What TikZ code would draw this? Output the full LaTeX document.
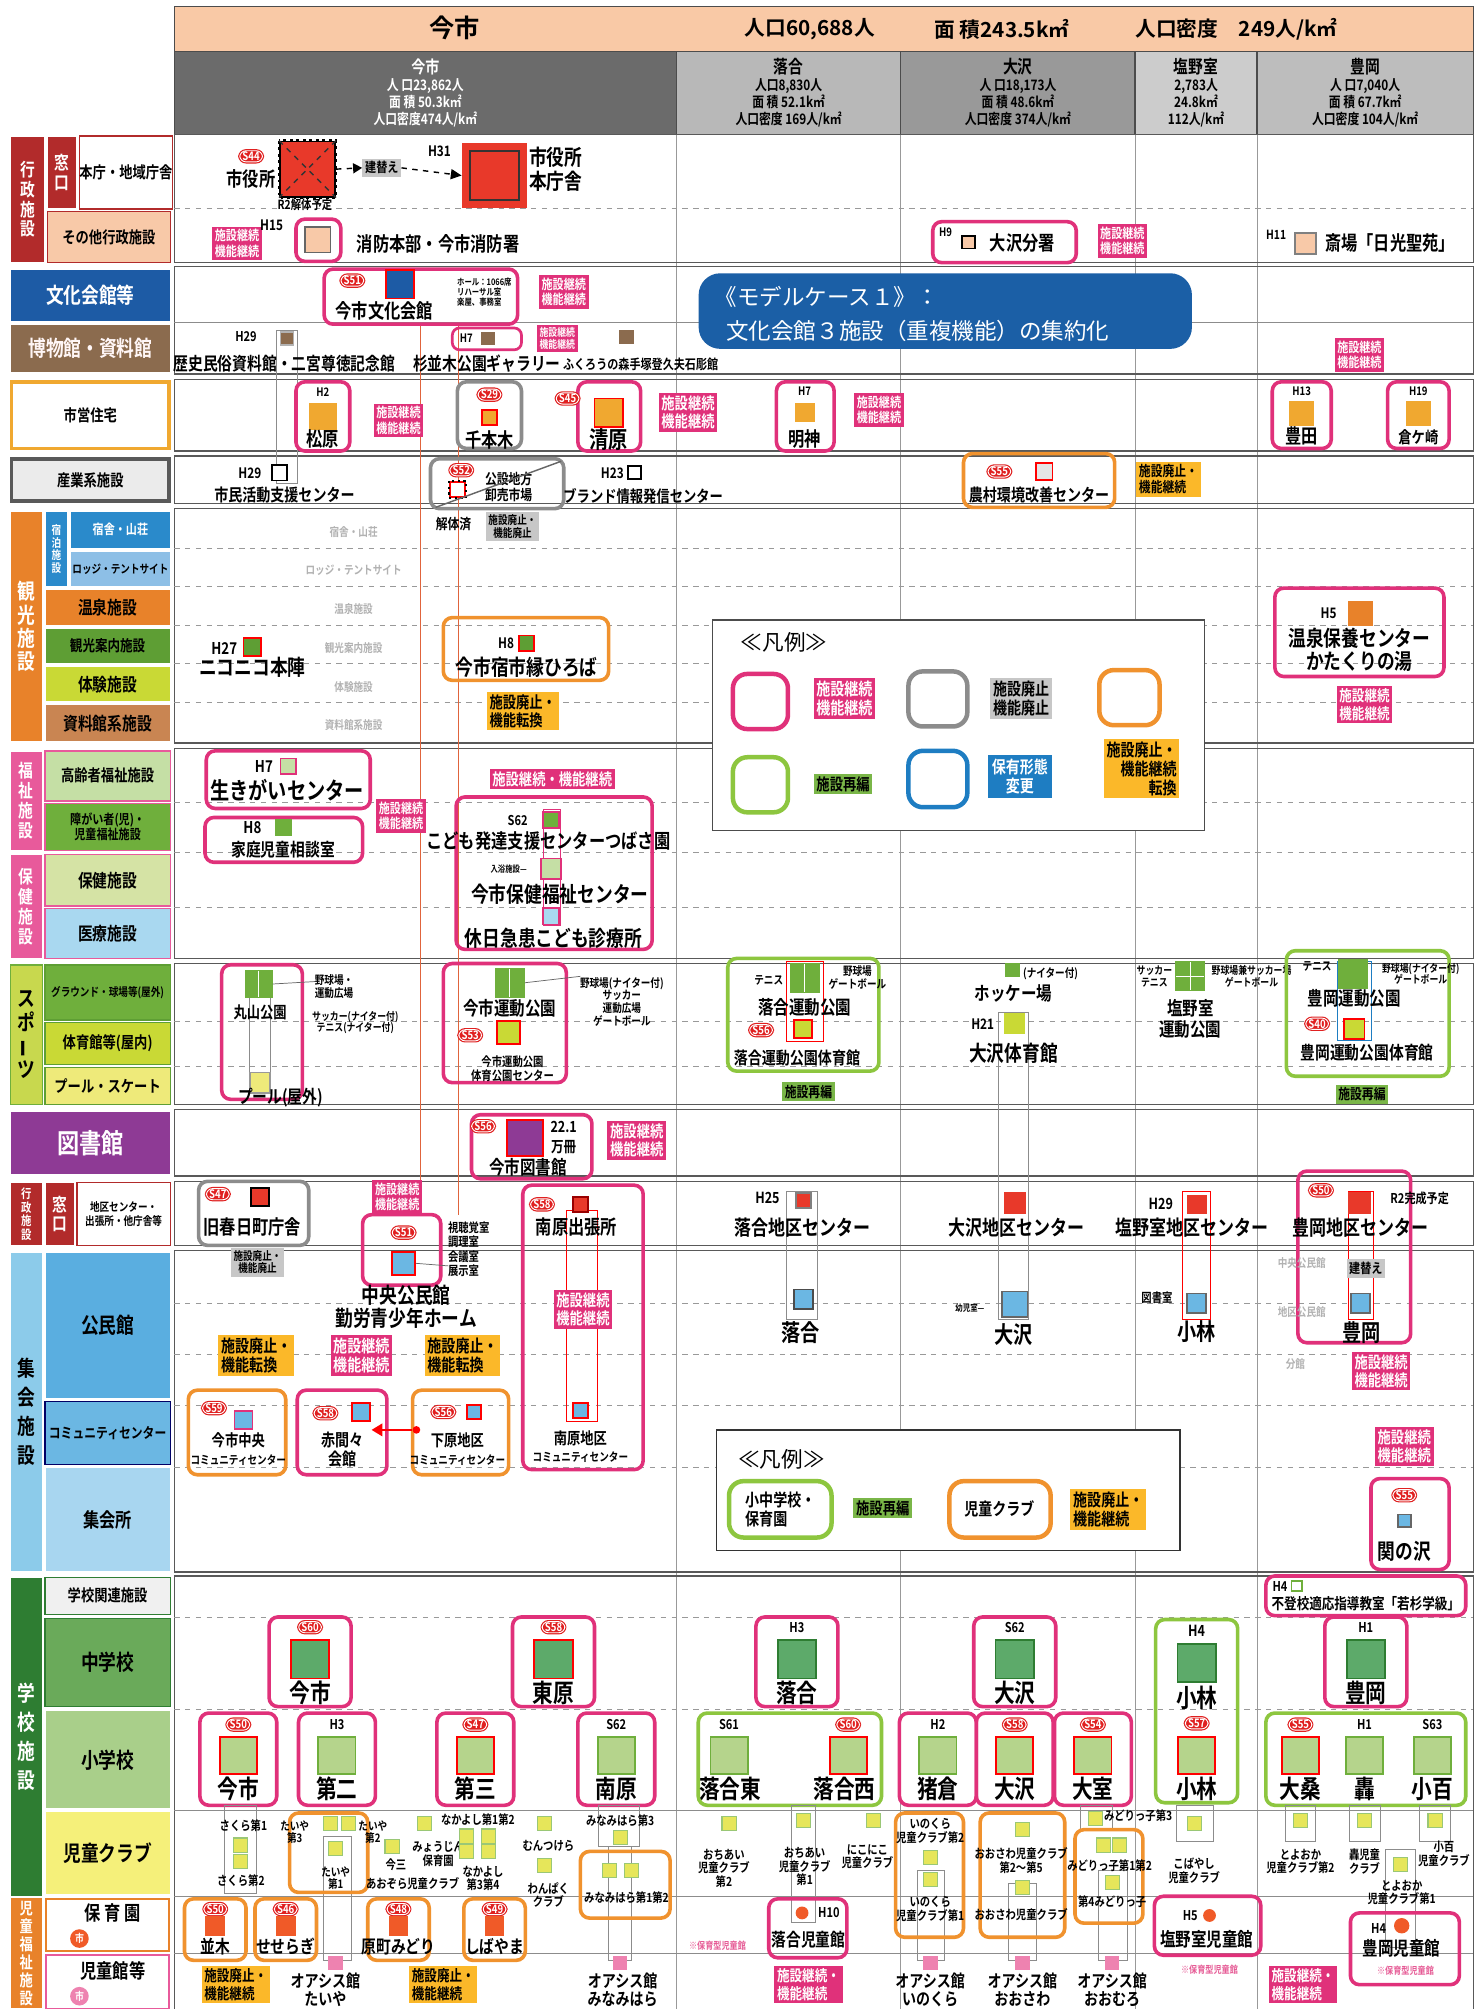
\documentclass[tikz,border=0pt]{standalone}
\usepackage{fontspec}
\setmainfont{Noto Sans CJK JP}[BoldFont=* Bold]
\newfontfamily\narrow{Noto Sans CJK JP}[UprightFont=* Bold, FakeStretch=0.82]
\usepackage{xcolor}
\usepackage{tikz}
\usetikzlibrary{arrows.meta}

\definecolor{keepc}{HTML}{E0317A}
\definecolor{stopc}{HTML}{8C8C8C}
\definecolor{convc}{HTML}{F0922E}
\definecolor{regc}{HTML}{8DC63F}
\definecolor{tagyel}{HTML}{FBB829}
\definecolor{tagreg}{HTML}{7AB648}
\definecolor{tagblue}{HTML}{1E7DC2}
\definecolor{calloutblue}{HTML}{1B5FA6}
\definecolor{hdrorange}{HTML}{F9C9A6}
\definecolor{admred}{HTML}{B22B2B}
\definecolor{facred}{HTML}{E8392A}
\definecolor{peach}{HTML}{F8C9A8}
\definecolor{culblue}{HTML}{1D5BA5}
\definecolor{musbrown}{HTML}{8B6B4E}
\definecolor{housec}{HTML}{F0A830}
\definecolor{tourorange}{HTML}{E8822A}
\definecolor{staysblue}{HTML}{2A8ACB}
\definecolor{lodgeblue}{HTML}{8DBFE6}
\definecolor{tourgreen}{HTML}{5E9E34}
\definecolor{yelgreen}{HTML}{C9D935}
\definecolor{docbrown}{HTML}{C98552}
\definecolor{welpink}{HTML}{E85A9B}
\definecolor{eldgreen}{HTML}{C5DFA5}
\definecolor{midgreen}{HTML}{6FAF3C}
\definecolor{palegreen}{HTML}{D5E3A5}
\definecolor{medblue}{HTML}{A9D8F0}
\definecolor{sportc}{HTML}{C8D84E}
\definecolor{poolyel}{HTML}{EEEA7A}
\definecolor{libpurple}{HTML}{8E3A95}
\definecolor{assemblue}{HTML}{8CCBEA}
\definecolor{halblue}{HTML}{5AAEE0}
\definecolor{comblue}{HTML}{6BB7E3}
\definecolor{meetblue}{HTML}{A8D6F0}
\definecolor{schgreen}{HTML}{2E7D32}
\definecolor{jhsgreen}{HTML}{6AAA5A}
\definecolor{elsgreen}{HTML}{A9CF8A}
\definecolor{clubyel}{HTML}{F5F07A}
\definecolor{sqjhs}{HTML}{5DAA6A}
\definecolor{sqels}{HTML}{B5D48C}
\definecolor{sqclub}{HTML}{E6E65A}
\definecolor{nursery}{HTML}{F05A28}
\definecolor{hallpink}{HTML}{EE82B0}
\definecolor{erared}{HTML}{E02020}
\definecolor{linkred}{HTML}{E0643C}

\newcommand{\fs}[2]{\fontsize{#1}{#2}\selectfont}
\def\un{0.025cm}

\tikzstyle{catcell} = [draw=white, line width=0.8pt, inner sep=0pt, outer sep=0pt,
  align=center, font=\narrow\fs{9}{10}]
\tikzstyle{keepbox} = [draw=keepc, line width=2pt, rounded corners=5pt]
\tikzstyle{stopbox} = [draw=stopc, line width=2pt, rounded corners=5pt]
\tikzstyle{convbox} = [draw=convc, line width=2pt, rounded corners=5pt]
\tikzstyle{regbox} = [draw=regc, line width=2pt, rounded corners=5pt]
\tikzstyle{bluebox} = [draw=tagblue, line width=2pt, rounded corners=5pt]
\tikzstyle{keeptag} = [fill=keepc, text=white, align=center, inner sep=1.5pt,
  font=\narrow\fs{7.5}{8.5}]
\tikzstyle{stoptag} = [fill=black!22, text=black, align=center, inner sep=1.5pt,
  font=\narrow\fs{7.5}{8.5}]
\tikzstyle{convtag} = [fill=tagyel, text=black, align=left, inner sep=1.5pt,
  font=\narrow\fs{8}{9}]
\tikzstyle{regtag} = [fill=tagreg, text=black, align=center, inner sep=1.5pt,
  font=\narrow\fs{8}{9}]
\tikzstyle{era} = [fill=erared, draw=white, line width=0.5pt, rounded corners=3.5pt,
  text=white, inner xsep=1.5pt, inner ysep=0.6pt, font=\narrow\fs{6.5}{7},
  preaction={draw=erared, line width=1.8pt}]
\tikzstyle{facsq} = [inner sep=0pt, line width=1pt]
\tikzstyle{lbl} = [font=\narrow\fs{11}{12}, align=center, inner sep=0.5pt]
\tikzstyle{biglbl} = [font=\narrow\fs{14}{15}, align=center, inner sep=0.5pt]
\tikzstyle{small} = [font=\narrow\fs{6.5}{7.2}, align=center, inner sep=0.3pt]
\tikzstyle{tiny} = [font=\narrow\fs{5}{5.5}, align=left, inner sep=0.3pt]
\tikzstyle{faint} = [font=\narrow\fs{6.5}{7}, text=black!30, inner sep=0.3pt]
\tikzstyle{link} = [draw=black!45, line width=0.4pt]
\tikzstyle{pinknote} = [font=\narrow\fs{5.5}{6}, text=keepc!80, inner sep=0.3pt]

\newcommand{\catcell}[7]{\node[catcell, #6, minimum width={(#4-#2)*\un},
  minimum height={(#5-#3)*\un}, anchor=north west] (#1) at (#2,#3) {#7};}
\newcommand{\fac}[5]{\node[facsq, fill=#3, draw=#4, minimum size={#5*\un}] (#1) at (#2) {};}

\begin{document}
\begin{tikzpicture}[x=0.025cm, y=-0.025cm]
\useasboundingbox (0,0) rectangle (1154,1568);
\clip (0,0) rectangle (1154,1568);
\fill[white] (0,0) rectangle (1154,1568);

% header
\node[draw=black!70, fill=hdrorange, minimum width=1014*\un, minimum height=35*\un,
  anchor=north west, inner sep=0pt] (hdr) at (136,5) {};
\node[font=\bfseries\fs{14}{15}] (hdrname) at (355,22) {今市};
\node[font=\bfseries\fs{11.5}{12}] (hdrpop) at (632,23) {人口60,688人};
\node[font=\bfseries\fs{11.5}{12}] (hdrarea) at (782,23) {面 積243.5k㎡};
\node[font=\bfseries\fs{11.5}{12}] (hdrdens) at (965,23) {人口密度　249人/k㎡};

\catcell{colim}{136}{40}{528}{105}{fill=black!58, text=white, draw=black!70, font=\narrow\fs{8}{9.5}}{{\fs{9.5}{10}今市}\\人 口23,862人\\面 積 50.3k㎡\\人口密度474人/k㎡}
\catcell{colochi}{528}{40}{703}{105}{fill=black!28, draw=black!70, font=\narrow\fs{8}{9.5}}{{\fs{10}{10.5}落合}\\人口8,830人\\面 積 52.1k㎡\\人口密度 169人/k㎡}
\catcell{colosa}{703}{40}{886}{105}{fill=black!40, draw=black!70, font=\narrow\fs{8}{9.5}}{{\fs{10}{10.5}大沢}\\人 口18,173人\\面 積 48.6k㎡\\人口密度 374人/k㎡}
\catcell{colshio}{886}{40}{981}{105}{fill=black!20, draw=black!70, font=\narrow\fs{8}{9.5}}{{\fs{10}{10.5}塩野室}\\2,783人\\24.8k㎡\\112人/k㎡}
\catcell{coltoyo}{981}{40}{1150}{105}{fill=black!26, draw=black!70, font=\narrow\fs{8}{9.5}}{{\fs{10}{10.5}豊岡}\\人 口7,040人\\面 積 67.7k㎡\\人口密度 104人/k㎡}

% body grid
\foreach \x in {528,703,886,981}
  \draw[black!40, line width=0.4pt] (\x,105) -- (\x,1568);
\foreach \a/\b in {105/205, 208/292, 296/352, 356/393, 397/580, 584/748,
  752/862, 866/918, 922/972, 976/1227, 1230/1580}
  \draw[black!65, line width=0.8pt] (136,\a) rectangle (1150,\b);
\foreach \y in {163,428,458,488,518,548,626,665,708,797,832,1017,1057,1097,1145,1262,1334}
  \draw[black!40, dashed, line width=0.5pt] (136,\y) -- (1150,\y);
\foreach \y in {252,1413,1480,1525}
  \draw[black!45, line width=0.5pt] (136,\y) -- (1150,\y);

% left column
\catcell{gadm}{8}{106}{35}{205}{fill=admred, text=white, font=\narrow\fs{10}{11}}{行\\政\\施\\設}
\catcell{madoa}{37}{106}{60}{163}{fill=admred, text=white, font=\narrow\fs{10}{11}}{窓\\口}
\catcell{honcho}{62}{106}{133}{163}{fill=white, draw=admred}{本庁・地域庁舎}
\catcell{sonota}{37}{165}{133}{205}{fill=peach, draw=admred}{その他行政施設}
\catcell{bunkac}{8}{210}{133}{251}{fill=culblue, text=white, font=\narrow\fs{12}{13}}{文化会館等}
\catcell{hakuc}{8}{253}{133}{291}{fill=musbrown, text=white!85!pink, font=\narrow\fs{12}{13}}{博物館・資料館}
\catcell{shiei}{9}{298}{132}{350}{fill=white, draw=housec, line width=2pt}{市営住宅}
\catcell{sangyo}{9}{358}{132}{391}{fill=black!8, draw=black!65, line width=2pt}{産業系施設}
\catcell{gtour}{8}{399}{33}{579}{fill=tourorange, text=white, font=\narrow\fs{12}{13}}{観\\光\\施\\設}
\catcell{stay}{35}{399}{53}{458}{fill=staysblue, text=white, font=\narrow\fs{6.5}{7}}{宿\\泊\\施\\設}
\catcell{sanso}{55}{399}{133}{428}{fill=staysblue, text=white, font=\narrow\fs{7.5}{8}}{宿舎・山荘}
\catcell{lodge}{55}{430}{133}{458}{fill=lodgeblue, font=\narrow\fs{6.5}{7}}{ロッジ・テントサイト}
\catcell{onsen}{35}{460}{133}{488}{fill=tourorange, font=\narrow\fs{10}{11}}{温泉施設}
\catcell{annai}{35}{490}{133}{518}{fill=tourgreen, font=\narrow\fs{8.5}{9}}{観光案内施設}
\catcell{taiken}{35}{520}{133}{548}{fill=yelgreen, font=\narrow\fs{10}{11}}{体験施設}
\catcell{shiryo}{35}{550}{133}{579}{fill=docbrown, font=\narrow\fs{10}{11}}{資料館系施設}
\catcell{gwel}{8}{586}{33}{664}{fill=welpink, text=white, font=\narrow\fs{10}{11}}{福\\祉\\施\\設}
\catcell{koreisha}{35}{586}{133}{625}{fill=eldgreen, draw=welpink}{高齢者福祉施設}
\catcell{shogai}{35}{627}{133}{664}{fill=midgreen, draw=welpink, font=\narrow\fs{7.5}{8.5}}{障がい者(児)・\\児童福祉施設}
\catcell{ghealth}{8}{667}{33}{748}{fill=welpink, text=white, font=\narrow\fs{10}{11}}{保\\健\\施\\設}
\catcell{hoken}{35}{667}{133}{707}{fill=palegreen, draw=welpink, font=\narrow\fs{10}{11}}{保健施設}
\catcell{iryo}{35}{709}{133}{748}{fill=medblue, draw=welpink, font=\narrow\fs{10}{11}}{医療施設}
\catcell{gsport}{8}{753}{33}{862}{fill=sportc, draw=midgreen, font=\narrow\fs{12}{13}}{ス\\ポ\\\rotatebox[origin=c]{90}{ー}\\ツ}
\catcell{ground}{35}{753}{133}{796}{fill=midgreen, draw=tourgreen, font=\narrow\fs{6.5}{7}}{グラウンド・球場等(屋外)}
\catcell{gym}{35}{798}{133}{831}{fill=yelgreen, draw=tourgreen}{体育館等(屋内)}
\catcell{pool}{35}{833}{133}{862}{fill=poolyel, draw=tourgreen}{プール・スケート}
\catcell{libc}{8}{867}{133}{917}{fill=libpurple, text=white, font=\narrow\fs{15}{16}}{図書館}
\catcell{gadmb}{8}{923}{33}{972}{fill=admred, text=white, font=\narrow\fs{7}{7.5}}{行\\政\\施\\設}
\catcell{madob}{35}{923}{58}{972}{fill=admred, text=white, font=\narrow\fs{10}{11}}{窓\\口}
\catcell{chiku}{60}{923}{133}{972}{fill=white, draw=admred, font=\narrow\fs{6.5}{7.5}}{地区センター・\\出張所・他庁舎等}
\catcell{gassem}{8}{977}{33}{1227}{fill=assemblue, font=\narrow\fs{12}{16}}{集\\会\\施\\設}
\catcell{kominkan}{35}{977}{133}{1092}{fill=halblue, font=\narrow\fs{12}{13}}{公民館}
\catcell{comcen}{35}{1094}{133}{1143}{fill=comblue, draw=black!60!blue, font=\narrow\fs{8}{9}}{コミュニティセンター}
\catcell{shukai}{35}{1145}{133}{1227}{fill=meetblue, font=\narrow\fs{11}{12}}{集会所}
\catcell{gschool}{8}{1231}{33}{1480}{fill=schgreen, text=white, font=\narrow\fs{12}{16}}{学\\校\\施\\設}
\catcell{gakkoukan}{35}{1231}{133}{1260}{fill=black!6, draw=schgreen}{学校関連施設}
\catcell{jhs}{35}{1263}{133}{1332}{fill=jhsgreen, draw=schgreen, font=\narrow\fs{12}{13}}{中学校}
\catcell{els}{35}{1335}{133}{1412}{fill=elsgreen, font=\narrow\fs{12}{13}}{小学校}
\catcell{club}{35}{1414}{133}{1479}{fill=clubyel, font=\narrow\fs{12}{13}}{児童クラブ}
\catcell{gchild}{8}{1481}{33}{1568}{fill=tourorange, text=white, font=\narrow\fs{9}{10}}{児\\童\\福\\祉\\施\\設}
\catcell{hoikuen}{36}{1482}{132}{1523}{fill=white, draw=tourorange, line width=1.2pt}{}
\catcell{jidokan}{36}{1526}{132}{1568}{fill=white, draw=welpink, line width=1.2pt}{}
\node[font=\narrow\fs{11}{12}] (hoikulbl) at (88,1493) {保 育 園};
\node[circle, fill=nursery, text=white, font=\narrow\fs{6}{6}, inner sep=1pt] (hoikushi) at (62,1513) {市};
\node[font=\narrow\fs{11}{12}] (jidolbl) at (88,1538) {児童館等};
\node[circle, fill=hallpink, text=white, font=\narrow\fs{6}{6}, inner sep=1pt] (jidoshi) at (62,1558) {市};

% long links
\draw[linkred, line width=0.6pt] (328,252) -- (328,948) (358,252) -- (358,948);
\draw[link] (216,258) rectangle (232,377);

% ---- 本庁・地域庁舎
\node[era] (s44) at (196,122) {S44};
\fac{oldhall}{240,132}{facred}{black}{43}
\draw[black, line width=1.6pt, dotted] (oldhall.north west) rectangle (oldhall.south east);
\draw[black!80, dashed, thick] (oldhall.north west) -- (oldhall.south east)
  (oldhall.north east) -- (oldhall.south west);
\node[lbl, anchor=east] (oldlbl) at (216,140) {市役所};
\node[small, font=\narrow\fs{7}{7.5}] (r2) at (238,160) {R2解体予定};
\node[stoptag] (rebuild) at (298,131) {建替え};
\node[small, font=\narrow\fs{8}{8}] (h31) at (343,118) {H31};
\fac{newhallo}{386,137}{facred}{facred}{50}
\fac{newhall}{386,137}{facred}{black!80}{38}
\draw[dashed, thick, -{Triangle[length=5pt]}] (oldhall.east) -- (rebuild.west);
\draw[dashed, thick, -{Triangle[length=6pt]}] (rebuild.east) -- (newhallo.west);
\node[lbl, font=\narrow\fs{12}{13}, align=left, anchor=west] (newlbl) at (412,132) {市役所\\本庁舎};

% ---- その他行政施設
\node[keeptag] (kt1) at (185,190) {施設継続\\機能継続};
\node[small, font=\narrow\fs{8}{8}] (h15) at (212,176) {H15};
\draw[keepbox] (231,171) rectangle (266,204);
\fac{fire}{248,187}{peach}{black!60}{20}
\node[lbl] (firelbl) at (342,190) {消防本部・今市消防署};
\draw[keepbox] (728,173) rectangle (840,205);
\node[small] (h9) at (738,181) {H9};
\fac{osabun}{756,189}{peach}{black}{10}
\node[lbl] (osabunlbl) at (798,190) {大沢分署};
\node[keeptag] (kt2) at (876,188) {施設継続\\機能継続};
\node[small, font=\narrow\fs{7}{7}] (h11) at (996,183) {H11};
\fac{saijo}{1019,190}{peach}{black!50}{16}
\node[lbl] (saijolbl) at (1085,190) {斎場「日光聖苑」};

% ---- 文化会館等・博物館
\draw[keepbox] (253,210) rectangle (404,253);
\node[era] (s51) at (275,219) {S51};
\fac{bunka}{312,222}{culblue}{red}{22}
\node[lbl] (bunkalbl) at (300,243) {今市文化会館};
\node[tiny] (hall) at (378,228) {ホール：1066席\\リハーサル室\\楽屋、事務室};
\node[keeptag] (kt3) at (440,228) {施設継続\\機能継続};
\node[fill=calloutblue, rounded corners=12pt, minimum width=385*\un, minimum height=59*\un,
  anchor=north west, inner sep=0pt] (model) at (545,213) {};
\node[text=white, font=\fs{12.5}{13}, anchor=west] (modela) at (553,232) {《モデルケース１》：};
\node[text=white, font=\fs{12.5}{13}, anchor=west] (modelb) at (562,258) {文化会館３施設（重複機能）の集約化};

\node[small, font=\narrow\fs{7.5}{8}] (h29a) at (192,263) {H29};
\fac{rekishi}{224,264}{musbrown}{black!30}{10}
\node[lbl, font=\narrow\fs{10}{11}] (rekishilbl) at (222,284) {歴史民俗資料館・二宮尊徳記念館};
\draw[keepbox, line width=1.5pt, rounded corners=4pt] (353,256) rectangle (407,273);
\node[small] (h7a) at (364,264) {H7};
\fac{sugi}{381,264}{musbrown}{musbrown}{9}
\node[keeptag, font=\narrow\fs{6}{6.5}] (kt4) at (435,264) {施設継続\\機能継続};
\fac{fukuro}{489,263}{musbrown}{musbrown}{10}
\node[lbl, font=\narrow\fs{10}{11}] (sugilbl) at (380,284) {杉並木公園ギャラリー};
\node[small, font=\narrow\fs{7.5}{8}] (fukurolbl) at (500,284) {ふくろうの森手塚登久夫石彫館};
\node[keeptag] (kt5) at (1061,277) {施設継続\\機能継続};

% ---- 市営住宅
\draw[keepbox] (231,298) rectangle (273,352);
\node[small] (h2a) at (252,306) {H2};
\fac{matsu}{252,325}{housec}{housec}{20}
\node[lbl] (matsulbl) at (252,343) {松原};
\node[keeptag] (kt6) at (311,328) {施設継続\\機能継続};
\draw[stopbox] (357,298) rectangle (407,350);
\node[era] (s29) at (382,308) {S29};
\fac{senbon}{382,326}{housec}{red}{12}
\node[lbl] (senbonlbl) at (382,343) {千本木};
\draw[keepbox] (451,298) rectangle (500,352);
\node[era] (s45) at (443,311) {S45};
\fac{kiyo}{475,322}{housec}{red}{22}
\node[lbl, font=\narrow\fs{13}{14}] (kiyolbl) at (475,343) {清原};
\node[keeptag, font=\narrow\fs{9}{10}] (kt7) at (537,322) {施設継続\\機能継続};
\draw[keepbox] (606,298) rectangle (651,352);
\node[small] (h7b) at (628,305) {H7};
\fac{myojin}{628,322}{housec}{housec}{14}
\node[lbl] (myojinlbl) at (628,343) {明神};
\node[keeptag] (kt8) at (686,320) {施設継続\\機能継続};
\draw[keepbox] (993,298) rectangle (1039,350);
\node[small] (h13) at (1016,305) {H13};
\fac{toyoda}{1016,323}{housec}{housec}{18}
\node[lbl] (toyodalbl) at (1016,340) {豊田};
\draw[keepbox] (1083,298) rectangle (1131,350);
\node[small] (h19) at (1107,305) {H19};
\fac{kuraga}{1107,323}{housec}{housec}{18}
\node[lbl, font=\narrow\fs{9}{10}] (kuragalbl) at (1107,341) {倉ケ崎};

% ---- 産業系施設
\node[small, font=\narrow\fs{8}{8}] (h29b) at (195,369) {H29};
\fac{shimin}{218,369}{white}{black}{12}
\node[lbl, font=\narrow\fs{9.5}{10}] (shiminlbl) at (222,386) {市民活動支援センター};
\draw[stopbox] (336,358) rectangle (440,397);
\node[era] (s52) at (360,367) {S52};
\fac{ichiba}{357,382}{white}{red}{12}
\draw[black, line width=1.2pt, dotted] (ichiba.north west) rectangle (ichiba.south east);
\node[small, font=\narrow\fs{8}{8.5}] (ichibalbl) at (397,380) {公設地方\\卸売市場};
\draw[black!60, line width=0.8pt] (340,396) -- (438,360);
\node[small, font=\narrow\fs{8}{8}] (kaitai) at (354,409) {解体済};
\node[stoptag, font=\narrow\fs{6.5}{7}] (st1) at (400,411) {施設廃止・\\機能廃止};
\node[small, font=\narrow\fs{8}{8}] (h23) at (478,369) {H23};
\fac{brand}{495,369}{white}{black}{10}
\node[lbl, font=\narrow\fs{9}{10}] (brandlbl) at (502,387) {ブランド情報発信センター};
\draw[convbox] (752,354) rectangle (870,396);
\node[era] (s55a) at (780,368) {S55};
\fac{noson}{815,368}{black!10}{red}{13}
\node[lbl, font=\narrow\fs{9.5}{10}] (nosonlbl) at (811,386) {農村環境改善センター};
\node[convtag] (ct1) at (912,374) {施設廃止・\\機能継続};

% ---- 観光施設
\foreach \t/\y [count=\i] in {宿舎・山荘/415, ロッジ・テントサイト/445, 温泉施設/475,
  観光案内施設/506, 体験施設/536, 資料館系施設/566}
  \node[faint] (tourfaint\i) at (276,\y) {\t};
\node[small, font=\narrow\fs{9}{9}] (h27) at (175,506) {H27};
\fac{niko}{197,505}{tourgreen}{red}{14}
\node[lbl, font=\narrow\fs{12}{13}] (nikolbl) at (197,521) {ニコニコ本陣};
\draw[convbox] (346,482) rectangle (475,531);
\node[small, font=\narrow\fs{8}{8}] (h8a) at (395,502) {H8};
\fac{ichien}{411,502}{tourgreen}{red}{12}
\node[lbl, font=\narrow\fs{12}{13}] (ichienlbl) at (411,521) {今市宿市縁ひろば};
\node[convtag, font=\narrow\fs{9}{10}] (ct2) at (408,555) {施設廃止・\\機能転換};
\draw[keepbox] (995,459) rectangle (1127,528);
\node[small, font=\narrow\fs{8}{8}] (h5a) at (1037,479) {H5};
\fac{katakuri}{1062,479}{tourorange}{tourorange}{18}
\node[lbl, font=\narrow\fs{12}{13}] (katakurilbl) at (1061,507) {温泉保養センター\\かたくりの湯};
\node[keeptag, font=\narrow\fs{8.5}{9.5}] (kt9) at (1065,550) {施設継続\\機能継続};

% legend 1
\draw[fill=white, draw=black!70, line width=0.8pt] (556,484) rectangle (940,648);
\node[font=\fs{12}{13}] (leg1ttl) at (612,501) {≪凡例≫};
\draw[keepbox, line width=2.5pt, rounded corners=8pt] (572,526) rectangle (615,569);
\node[keeptag, font=\narrow\fs{9.5}{10.5}] (legkeep) at (659,545) {施設継続\\機能継続};
\draw[stopbox, line width=2.5pt, rounded corners=8pt] (709,524) rectangle (755,567);
\node[stoptag, font=\narrow\fs{9.5}{10.5}] (legstop) at (797,545) {施設廃止\\機能廃止};
\draw[convbox, line width=2.5pt, rounded corners=8pt] (858,523) rectangle (905,566);
\draw[regbox, line width=2.5pt, rounded corners=8pt] (572,591) rectangle (615,634);
\node[regtag, font=\narrow\fs{9}{10}] (legreg) at (658,612) {施設再編};
\draw[bluebox, line width=2.5pt, rounded corners=8pt] (709,586) rectangle (755,630);
\node[fill=tagblue, text=white, align=center, inner sep=2pt, font=\narrow\fs{9.5}{10.5}] (legblue) at (796,606) {保有形態\\変更};
\node[convtag, font=\narrow\fs{9.5}{10.5}, align=right] (legconv) at (891,600) {施設廃止・\\機能継続\\転換};

% ---- 福祉・保健
\draw[keepbox] (161,586) rectangle (289,631);
\node[small, font=\narrow\fs{9}{9}] (h7c) at (206,598) {H7};
\fac{ikigai}{225,598}{eldgreen}{keepc}{12}
\node[lbl, font=\narrow\fs{13}{14}] (ikigailbl) at (224,617) {生きがいセンター};
\node[keeptag] (kt10) at (313,637) {施設継続\\機能継続};
\draw[keepbox] (160,638) rectangle (283,673);
\node[small, font=\narrow\fs{9}{9}] (h8b) at (197,646) {H8};
\fac{katei}{221,646}{midgreen}{midgreen}{12}
\node[lbl, font=\narrow\fs{10}{11}] (kateilbl) at (221,663) {家庭児童相談室};
\node[keeptag, font=\narrow\fs{9}{10}] (kt11) at (431,608) {施設継続・機能継続};
\draw[keepbox] (356,622) rectangle (509,741);
\draw[link, draw=keepc] (424,632) rectangle (437,722);
\node[small, font=\narrow\fs{7.5}{8}] (s62a) at (404,640) {S62};
\fac{tsubasa}{430,640}{midgreen}{keepc}{13}
\node[lbl] (tsubasalbl) at (428,656) {こども発達支援センターつばさ園};
\node[tiny] (nyuyoku) at (397,678) {入浴施設—};
\fac{hoken}{430,678}{eldgreen}{keepc}{16}
\node[lbl, font=\narrow\fs{12}{13}] (hokenlbl) at (437,698) {今市保健福祉センター};
\fac{kyujitsu}{430,715}{medblue}{keepc}{13}
\node[lbl, font=\narrow\fs{12}{13}] (kyujitsulbl) at (432,732) {休日急患こども診療所};

% ---- スポーツ
\draw[keepbox] (173,753) rectangle (236,858);
\draw[link] (195,778) rectangle (211,840);
\fac{maru}{202,768}{midgreen}{midgreen}{20}
\draw[white, line width=0.5pt] (202,758) -- (202,778);
\draw[black!60, line width=0.4pt] (maru.east) -- (247,766);
\node[small, anchor=west] (marulblA) at (245,770) {野球場・\\運動広場};
\node[lbl, font=\narrow\fs{9}{10}] (marulbl) at (203,790) {丸山公園};
\node[small, font=\narrow\fs{6}{6.5}, anchor=west] (marulblB) at (243,798) {サッカー(ナイター付)\\テニス(ナイター付)};
\fac{marupool}{203,845}{poolyel}{black!40}{16}
\node[lbl, font=\narrow\fs{10}{11}] (marupoollbl) at (219,857) {プール(屋外)};
\draw[keepbox] (346,752) rectangle (442,845);
\fac{undo}{398,767}{midgreen}{midgreen}{22}
\draw[white, line width=0.5pt] (398,756) -- (398,778);
\draw[black!60, line width=0.4pt] (undo.east) -- (453,762);
\node[small, anchor=west] (undolblA) at (452,782) {野球場(ナイター付)\\サッカー\\運動広場\\ゲートボール};
\node[lbl, font=\narrow\fs{10.5}{11}] (undolbl) at (398,787) {今市運動公園};
\node[era] (s53) at (367,808) {S53};
\fac{undogym}{397,806}{yelgreen}{red}{18}
\node[small, font=\narrow\fs{7}{7.5}] (undogymlbl) at (400,834) {今市運動公園\\体育公園センター};
\draw[regbox] (568,748) rectangle (686,836);
\draw[link, draw=red] (614,750) rectangle (643,813);
\node[small] (ochiten) at (600,765) {テニス};
\fac{ochiundo}{628,763}{midgreen}{midgreen}{22}
\draw[white, line width=0.5pt] (628,752) -- (628,774);
\node[small, anchor=west] (ochiundolblA) at (646,763) {野球場\\ゲートボール};
\node[lbl, font=\narrow\fs{10.5}{11}] (ochiundolbl) at (628,786) {落合運動公園};
\node[era] (s56a) at (594,804) {S56};
\fac{ochigym}{627,803}{yelgreen}{red}{14}
\node[lbl, font=\narrow\fs{9.5}{10}] (ochigymlbl) at (622,826) {落合運動公園体育館};
\node[regtag] (rt1) at (631,852) {施設再編};
\draw[link] (779,790) rectangle (803,1030);
\fac{hockey}{790,757}{midgreen}{midgreen}{10}
\node[small] (hockeyn) at (820,760) {(ナイター付)};
\node[lbl, font=\narrow\fs{10.5}{11}] (hockeylbl) at (791,775) {ホッケー場};
\node[small, font=\narrow\fs{8}{8}] (h21) at (767,799) {H21};
\fac{osagym}{792,799}{yelgreen}{yelgreen}{15}
\node[lbl, font=\narrow\fs{12}{13}] (osagymlbl) at (791,822) {大沢体育館};
\node[small, font=\narrow\fs{6}{6.5}] (shioten) at (901,762) {サッカー\\テニス};
\fac{shioundo}{929,762}{midgreen}{midgreen}{22}
\draw[white, line width=0.5pt] (929,751) -- (929,773) (918,762) -- (940,762);
\node[small, font=\narrow\fs{6}{6.5}, anchor=west] (shioundolblA) at (945,762) {野球場兼サッカー場\\ゲートボール};
\node[lbl, font=\narrow\fs{10.5}{11.5}] (shioundolbl) at (929,795) {塩野室\\運動公園};
\draw[regbox] (1004,742) rectangle (1131,840);
\draw[link, draw=tagblue] (1044,750) rectangle (1070,812);
\node[small] (toyoten) at (1028,754) {テニス};
\fac{toyoundo}{1056,760}{midgreen}{midgreen}{22}
\node[small, font=\narrow\fs{6}{6.5}, anchor=west] (toyoundolblA) at (1078,760) {野球場(ナイター付)\\ゲートボール};
\node[lbl, font=\narrow\fs{10.5}{11}] (toyoundolbl) at (1057,779) {豊岡運動公園};
\node[era] (s40) at (1028,799) {S40};
\fac{toyogym}{1057,803}{yelgreen}{red}{16}
\node[lbl, font=\narrow\fs{10}{11}] (toyogymlbl) at (1067,822) {豊岡運動公園体育館};
\node[regtag] (rt2) at (1063,854) {施設再編};

% ---- 図書館
\draw[keepbox] (368,870) rectangle (462,920);
\node[era] (s56b) at (377,879) {S56};
\fac{libo}{410,888}{libpurple}{red}{28}
\fac{lib}{410,888}{libpurple}{libpurple}{20}
\node[small, font=\narrow\fs{8.5}{11}, anchor=west] (libvol) at (429,888) {22.1\\万冊};
\node[lbl, font=\narrow\fs{10.5}{11}] (liblbl) at (412,911) {今市図書館};
\node[keeptag, font=\narrow\fs{9}{10}] (kt12) at (497,890) {施設継続\\機能継続};

% ---- 地区センター
\draw[stopbox] (155,922) rectangle (241,972);
\node[era] (s47a) at (170,932) {S47};
\fac{kasuga}{203,934}{facred}{black}{14}
\node[lbl, font=\narrow\fs{11}{12}] (kasugalbl) at (197,958) {旧春日町庁舎};
\node[stoptag, font=\narrow\fs{6.5}{7}] (st2) at (201,985) {施設廃止・\\機能廃止};
\node[keeptag] (kt13) at (310,934) {施設継続\\機能継続};
\draw[keepbox] (408,925) rectangle (502,1147);
\draw[link, draw=red] (442,945) rectangle (466,1109);
\node[era] (s58a) at (423,940) {S58};
\fac{minami}{453,940}{facred}{red!60!black}{12}
\node[lbl, font=\narrow\fs{11}{12}] (minamilbl) at (450,958) {南原出張所};
\node[keeptag, font=\narrow\fs{9}{10}] (kt14) at (455,1022) {施設継続\\機能継続};
\fac{minamicom}{453,1101}{comblue}{red}{12}
\node[small, font=\narrow\fs{9}{9.5}] (minamicomlbl) at (453,1129) {南原地区\\{\fs{6.5}{7}コミュニティセンター}};
\draw[link] (614,930) rectangle (638,1030);
\node[small, font=\narrow\fs{8.5}{8.5}] (h25) at (599,935) {H25};
\fac{ochichiku}{627,937}{facred}{black!50}{12}
\node[lbl, font=\narrow\fs{11.5}{12}] (ochichikulbl) at (626,958) {落合地区センター};
\fac{osachiku}{792,939}{facred}{facred}{16}
\node[lbl, font=\narrow\fs{11.5}{12}] (osachikulbl) at (793,958) {大沢地区センター};
\draw[link, draw=red] (923,930) rectangle (945,1030);
\node[small, font=\narrow\fs{8.5}{8.5}] (h29c) at (906,940) {H29};
\fac{shiochiku}{934,940}{facred}{facred}{14}
\node[lbl, font=\narrow\fs{11.5}{12}] (shiochikulbl) at (930,958) {塩野室地区センター};
\draw[keepbox] (1013,914) rectangle (1101,1048);
\draw[link, draw=red] (1052,930) rectangle (1072,1030);
\node[era] (s50a) at (1031,929) {S50};
\fac{toyochiku}{1061,939}{facred}{facred}{16}
\node[small, font=\narrow\fs{7.5}{8}] (r2b) at (1108,935) {R2完成予定};
\node[lbl, font=\narrow\fs{11.5}{12}] (toyochikulbl) at (1062,958) {豊岡地区センター};

% ---- 集会施設
\draw[keepbox] (283,948) rectangle (344,1003);
\node[era] (s51b) at (315,962) {S51};
\fac{chuo}{315,986}{comblue}{red}{18}
\draw[black!60, line width=0.4pt] (chuo.east) -- (350,988);
\node[tiny, font=\narrow\fs{7}{8}, anchor=west] (chuorooms) at (349,975) {視聴覚室\\調理室\\会議室\\展示室};
\node[lbl, font=\narrow\fs{12}{13}] (chuolbl) at (317,1020) {中央公民館\\勤労青少年ホーム};
\node[convtag, font=\narrow\fs{9.5}{10.5}] (ct3) at (200,1058) {施設廃止・\\機能転換};
\node[keeptag, font=\narrow\fs{9.5}{10.5}] (kt15) at (282,1058) {施設継続\\機能継続};
\node[convtag, font=\narrow\fs{9.5}{10.5}] (ct4) at (361,1058) {施設廃止・\\機能転換};
\draw[convbox] (147,1085) rectangle (223,1151);
\node[era] (s59) at (167,1099) {S59};
\fac{imacom}{190,1108}{comblue}{keepc}{14}
\node[small, font=\narrow\fs{9}{9.5}] (imacomlbl) at (186,1131) {今市中央\\{\fs{6.5}{7}コミュニティセンター}};
\draw[keepbox] (232,1085) rectangle (302,1151);
\node[era] (s58b) at (254,1103) {S58};
\fac{akama}{282,1102}{comblue}{red}{14}
\node[small, font=\narrow\fs{9.5}{10.5}] (akamalbl) at (267,1131) {赤間々\\会館};
\draw[convbox] (322,1085) rectangle (397,1151);
\node[era] (s56c) at (346,1102) {S56};
\fac{shimo}{370,1102}{comblue}{red}{11}
\node[small, font=\narrow\fs{9}{9.5}] (shimolbl) at (357,1131) {下原地区\\{\fs{6.5}{7}コミュニティセンター}};
\node[circle, fill=red, inner sep=0pt, minimum size=6*\un] (arrdot) at (325,1116) {};
\draw[red, line width=1pt, -{Triangle[length=6pt, width=7pt]}] (arrdot) -- (290,1116);
\fac{ochikomin}{627,1014}{comblue}{black!70}{15}
\node[biglbl, font=\narrow\fs{13}{14}] (ochikominlbl) at (625,1040) {落合};
\node[tiny] (yoji) at (757,1021) {幼児室—};
\fac{osakomin}{792,1018}{comblue}{black!60}{20}
\node[biglbl, font=\narrow\fs{13}{14}] (osakominlbl) at (791,1042) {大沢};
\node[small, font=\narrow\fs{7}{7.5}] (toshoshitsu) at (903,1013) {図書室};
\fac{kobakomin}{934,1017}{comblue}{black!60}{15}
\node[biglbl, font=\narrow\fs{13}{14}] (kobakominlbl) at (934,1039) {小林};
\node[faint] (chuof) at (1016,986) {中央公民館};
\node[stoptag] (rebuild2) at (1066,990) {建替え};
\node[faint] (chikuf) at (1016,1024) {地区公民館};
\fac{toyokomin}{1062,1017}{comblue}{black!60}{15}
\node[biglbl, font=\narrow\fs{13}{14}] (toyokominlbl) at (1063,1040) {豊岡};
\node[faint] (bunkan) at (1011,1065) {分館};
\node[keeptag, font=\narrow\fs{9}{10}] (kt16) at (1078,1070) {施設継続\\機能継続};
\node[keeptag, font=\narrow\fs{9}{10}] (kt17) at (1096,1129) {施設継続\\機能継続};
\draw[keepbox] (1070,1154) rectangle (1131,1225);
\node[era] (s55b) at (1096,1167) {S55};
\fac{sekino}{1096,1187}{comblue}{black!60}{10}
\node[lbl, font=\narrow\fs{12}{13}] (sekinolbl) at (1096,1211) {関の沢};

% legend 2
\draw[fill=white, draw=black!80, line width=0.8pt] (559,1116) rectangle (921,1210);
\node[font=\fs{12}{13}] (leg2ttl) at (610,1139) {≪凡例≫};
\draw[regbox, line width=2.5pt, rounded corners=8pt] (569,1156) rectangle (649,1200);
\node[font=\narrow\fs{9.5}{10.5}, align=left] (legschool) at (609,1178) {小中学校・\\保育園};
\node[regtag, font=\narrow\fs{9}{10}] (legreg2) at (689,1177) {施設再編};
\draw[convbox, line width=2.5pt, rounded corners=8pt] (741,1156) rectangle (820,1200);
\node[font=\narrow\fs{9.5}{10.5}] (legclub) at (780,1178) {児童クラブ};
\node[convtag, font=\narrow\fs{9.5}{10.5}] (legconv2) at (865,1178) {施設廃止・\\機能継続};

% ---- 学校関連施設
\draw[keepbox] (988,1230) rectangle (1144,1261);
\node[small, font=\narrow\fs{7.5}{8}] (h4a) at (999,1238) {H4};
\fac{wakasugi}{1012,1238}{white}{midgreen}{8}
\node[small, font=\narrow\fs{8.5}{9}] (wakasugilbl) at (1066,1252) {不登校適応指導教室「若杉学級」};

% ---- 中学校
\foreach \nm/\x/\yr/\rd/\lb in {jimai/242/S60/1/今市, jhigashi/432/S58/1/東原,
  jochi/622/H3/0/落合, josa/792/S62/0/大沢, jtoyo/1066/H1/0/豊岡}{
  \draw[keepbox] (\x-32,1262) rectangle (\x+32,1332);
  \ifnum\rd=1
    \node[era] (\nm era) at (\x,1270) {\yr};
    \fac{\nm}{\x,1295}{sqjhs}{red}{30}
  \else
    \node[small, font=\narrow\fs{7.5}{8}] (\nm era) at (\x,1270) {\yr};
    \fac{\nm}{\x,1295}{sqjhs}{schgreen}{30}
  \fi
  \node[biglbl] (\nm lbl) at (\x,1321) {\lb};
}
\draw[regbox] (902,1264) rectangle (966,1407);
\node[small, font=\narrow\fs{8.5}{9}] (h4b) at (934,1273) {H4};
\fac{jkoba}{934,1298}{sqjhs}{schgreen}{30}
\node[biglbl] (jkobalbl) at (934,1325) {小林};

% ---- 小学校
\foreach \nm/\x/\yr/\rd/\lb in {eimai/186/S50/1/今市, edaini/263/H3/0/第二,
  edaisan/371/S47/1/第三, eminami/481/S62/0/南原, eino/732/H2/0/猪倉,
  eosa/792/S58/1/大沢, eomuro/853/S54/1/大室}{
  \draw[keepbox] (\x-30,1337) rectangle (\x+30,1409);
  \ifnum\rd=1
    \node[era] (\nm era) at (\x,1346) {\yr};
    \fac{\nm}{\x,1370}{sqels}{red}{29}
  \else
    \node[small, font=\narrow\fs{7.5}{8}] (\nm era) at (\x,1346) {\yr};
    \fac{\nm}{\x,1370}{sqels}{midgreen}{29}
  \fi
  \node[biglbl] (\nm lbl) at (\x,1396) {\lb};
}
\draw[regbox] (545,1337) rectangle (688,1409);
\node[small, font=\narrow\fs{7.5}{8}] (s61) at (569,1346) {S61};
\fac{eochie}{569,1370}{sqels}{midgreen}{29}
\node[biglbl] (eochielbl) at (570,1396) {落合東};
\node[era] (s60c) at (662,1346) {S60};
\fac{eochiw}{662,1370}{sqels}{red}{29}
\node[biglbl] (eochiwlbl) at (659,1396) {落合西};
\node[era] (s57) at (934,1345) {S57};
\fac{ekoba}{934,1370}{sqels}{red}{29}
\node[biglbl] (ekobalbl) at (934,1396) {小林};
\draw[regbox] (988,1337) rectangle (1144,1409);
\foreach \nm/\x/\yr/\rd/\lb in {eokuwa/1015/S55/1/大桑, etodo/1065/H1/0/轟, ekoza/1118/S63/0/小百}{
  \ifnum\rd=1
    \node[era] (\nm era) at (\x,1346) {\yr};
    \fac{\nm}{\x,1370}{sqels}{red}{29}
  \else
    \node[small, font=\narrow\fs{7.5}{8}] (\nm era) at (\x,1346) {\yr};
    \fac{\nm}{\x,1370}{sqels}{midgreen}{29}
  \fi
  \node[biglbl] (\nm lbl) at (\x,1396) {\lb};
}

% ---- 児童クラブ (今市)
\tikzstyle{clubsq} = [facsq, fill=sqclub, draw=midgreen!70, line width=0.6pt, minimum size=11*\un]
\tikzstyle{clublbl} = [small, font=\narrow\fs{7}{7.5}]
\draw[link] (175,1409) rectangle (200,1478);
\node[clublbl] (sakura1) at (190,1425) {さくら第1};
\node[clubsq] (sakura1sq) at (188,1440) {};
\node[clubsq] (sakura2sq) at (188,1453) {};
\node[clublbl] (sakura2) at (188,1468) {さくら第2};
\draw[link] (252,1433) rectangle (274,1530);
\draw[convbox] (226,1415) rectangle (287,1477);
\node[clublbl, font=\narrow\fs{6.5}{6.5}] (taiya3) at (230,1430) {たいや\\第3};
\node[clubsq] (taiya3sq) at (258,1423) {};
\node[clubsq] (taiya2sq) at (272,1423) {};
\node[clublbl, font=\narrow\fs{6.5}{6.5}] (taiya2) at (291,1430) {たいや\\第2};
\node[clubsq] (taiya1sq) at (262,1443) {};
\node[clublbl, font=\narrow\fs{6.5}{6.5}] (taiya1) at (262,1466) {たいや\\第1};
\node[clubsq] (imasansq) at (306,1441) {};
\node[clublbl] (imasan) at (309,1455) {今三};
\node[clublbl] (aozora) at (322,1470) {あおぞら児童クラブ};
\node[clubsq] (myojinsq) at (331,1423) {};
\node[clublbl] (myojinc) at (342,1447) {みょうじん\\保育園};
\node[clublbl] (nakayoshi12) at (373,1420) {なかよし第1第2};
\foreach \a/\b in {364/1433, 381/1433, 364/1445, 381/1445}
  \node[clubsq] at (\a,\b) {};
\node[clublbl] (nakayoshi34) at (377,1466) {なかよし\\第3第4};
\node[clubsq] (muntsusq) at (425,1423) {};
\node[clublbl] (muntsu) at (428,1441) {むんつけら};
\node[clubsq] (wanpakusq) at (425,1456) {};
\node[clublbl] (wanpaku) at (428,1479) {わんぱく\\クラブ};
\draw[link] (475,1441) rectangle (493,1530);
\draw[link] (467,1409) rectangle (499,1441);
\node[clublbl] (minami3) at (484,1421) {みなみはら第3};
\node[clubsq] (minami3sq) at (484,1434) {};
\draw[convbox] (453,1445) rectangle (523,1497);
\node[clubsq] (minami1sq) at (476,1460) {};
\node[clubsq] (minami2sq) at (493,1460) {};
\node[clublbl] (minami12) at (489,1481) {みなみはら第1第2};

% ---- 児童クラブ (落合・大沢・塩野室・豊岡)
\node[clubsq] (ochi2sq) at (569,1423) {};
\node[clublbl] (ochi2) at (565,1458) {おちあい\\児童クラブ\\第2};
\draw[link] (618,1409) rectangle (636,1500);
\node[clubsq] (ochi1sq) at (627,1421) {};
\node[clublbl] (ochi1) at (628,1457) {おちあい\\児童クラブ\\第1};
\node[clubsq] (nikosq) at (682,1421) {};
\node[clublbl] (niko) at (677,1449) {にこにこ\\児童クラブ};
\draw[link] (716,1460) rectangle (737,1530);
\draw[convbox] (699,1415) rectangle (752,1512);
\node[clublbl] (ino2) at (726,1429) {いのくら\\児童クラブ第2};
\node[clubsq] (ino2sq) at (726,1450) {};
\node[clubsq] (ino1sq) at (726,1467) {};
\node[clublbl] (ino1) at (726,1490) {いのくら\\児童クラブ第1};
\draw[link] (787,1470) rectangle (809,1530);
\draw[convbox] (765,1415) rectangle (831,1512);
\node[clubsq] (osa2sq) at (798,1428) {};
\node[clublbl] (osa25) at (797,1452) {おおさわ児童クラブ\\第2～第5};
\node[clubsq] (osa1sq) at (798,1473) {};
\node[clublbl] (osa1) at (797,1494) {おおさわ児童クラブ};
\draw[link] (843,1409) rectangle (868,1428);
\node[clubsq] (midori3sq) at (855,1419) {};
\node[clublbl, anchor=west] (midori3) at (861,1417) {みどりっ子第3};
\draw[link] (857,1460) rectangle (880,1530);
\draw[convbox] (839,1428) rectangle (892,1501);
\node[clubsq] (midori1sq) at (861,1440) {};
\node[clubsq] (midori2sq) at (874,1440) {};
\node[clublbl] (midori12) at (866,1456) {みどりっ子第1第2};
\node[clubsq] (midori4sq) at (868,1469) {};
\node[clublbl] (midori4) at (868,1484) {第4みどりっ子};
\draw[link] (918,1409) rectangle (947,1437);
\node[clubsq] (kobasq) at (932,1423) {};
\node[clublbl] (koba) at (932,1460) {こばやし\\児童クラブ};
\draw[link] (1003,1409) rectangle (1027,1437);
\node[clubsq] (toyo2sq) at (1015,1421) {};
\node[clublbl] (toyo2) at (1015,1453) {とよおか\\児童クラブ第2};
\draw[link] (1053,1409) rectangle (1077,1437);
\node[clubsq] (todosq) at (1065,1421) {};
\node[clublbl] (todo) at (1065,1453) {轟児童\\クラブ};
\draw[link] (1108,1409) rectangle (1132,1437);
\node[clubsq] (kozasq) at (1120,1421) {};
\node[clublbl] (koza) at (1127,1447) {小百\\児童クラブ};
\draw[link] (1081,1443) rectangle (1105,1520);
\node[clubsq] (toyo1sq) at (1093,1455) {};
\node[clublbl] (toyo1) at (1094,1477) {とよおか\\児童クラブ第1};

% ---- 保育園・児童館
\foreach \nm/\x/\yr/\lb in {namiki/168/S50/並木, seseragi/223/S46/せせらぎ,
  haramachi/311/S48/原町みどり, shibayama/386/S49/しばやま}{
  \draw[convbox] (\x-24,1482) rectangle (\x+24,1530);
  \node[era] (\nm era) at (\x,1490) {\yr};
  \fac{\nm}{\x,1503}{nursery}{nursery}{14}
  \node[lbl, font=\narrow\fs{10}{11}] (\nm lbl) at (\x,1519) {\lb};
}
\node[pinknote] (note1) at (560,1519) {※保育型児童館};
\draw[keepbox] (600,1482) rectangle (661,1528);
\node[circle, fill=nursery, minimum size=10*\un, inner sep=0pt] (ochikan) at (626,1493) {};
\node[small, font=\narrow\fs{7.5}{8}] (h10) at (647,1493) {H10};
\node[lbl, font=\narrow\fs{10}{11}] (ochikanlbl) at (631,1514) {落合児童館};
\draw[keepbox] (901,1480) rectangle (984,1526);
\node[small, font=\narrow\fs{7.5}{8}] (h5b) at (929,1495) {H5};
\node[circle, fill=nursery, minimum size=10*\un, inner sep=0pt] (shiokan) at (944,1495) {};
\node[lbl, font=\narrow\fs{10.5}{11}] (shiokanlbl) at (942,1514) {塩野室児童館};
\node[pinknote] (note2) at (944,1537) {※保育型児童館};
\draw[keepbox] (1054,1493) rectangle (1139,1549);
\node[small, font=\narrow\fs{7.5}{8}] (h4c) at (1076,1505) {H4};
\node[circle, fill=nursery, minimum size=12*\un, inner sep=0pt] (toyokan) at (1094,1503) {};
\node[lbl, font=\narrow\fs{10.5}{11}] (toyokanlbl) at (1094,1521) {豊岡児童館};
\node[pinknote] (note3) at (1097,1538) {※保育型児童館};

\node[convtag, font=\narrow\fs{8.5}{9.5}] (ct5) at (184,1549) {施設廃止・\\機能継続};
\fac{oataiya}{262,1532}{hallpink}{hallpink}{10}
\node[lbl, font=\narrow\fs{9.5}{10}] (oataiyalbl) at (254,1553) {オアシス館\\たいや};
\node[convtag, font=\narrow\fs{8.5}{9.5}] (ct6) at (346,1549) {施設廃止・\\機能継続};
\fac{oaminami}{484,1532}{hallpink}{hallpink}{10}
\node[lbl, font=\narrow\fs{9.5}{10}] (oaminamilbl) at (486,1553) {オアシス館\\みなみはら};
\node[keeptag, font=\narrow\fs{8.5}{9.5}, align=left] (kt18) at (631,1549) {施設継続・\\機能継続};
\foreach \nm/\x/\lb in {oaino/726/いのくら, oaosa/798/おおさわ, oaomu/868/おおむろ}{
  \fac{\nm}{\x,1532}{hallpink}{hallpink}{10}
  \node[lbl, font=\narrow\fs{9.5}{10}] (\nm lbl) at (\x,1553) {オアシス館\\\lb};
}
\node[keeptag, font=\narrow\fs{8.5}{9.5}, align=left] (kt19) at (1017,1549) {施設継続・\\機能継続};
\end{tikzpicture}
\end{document}
